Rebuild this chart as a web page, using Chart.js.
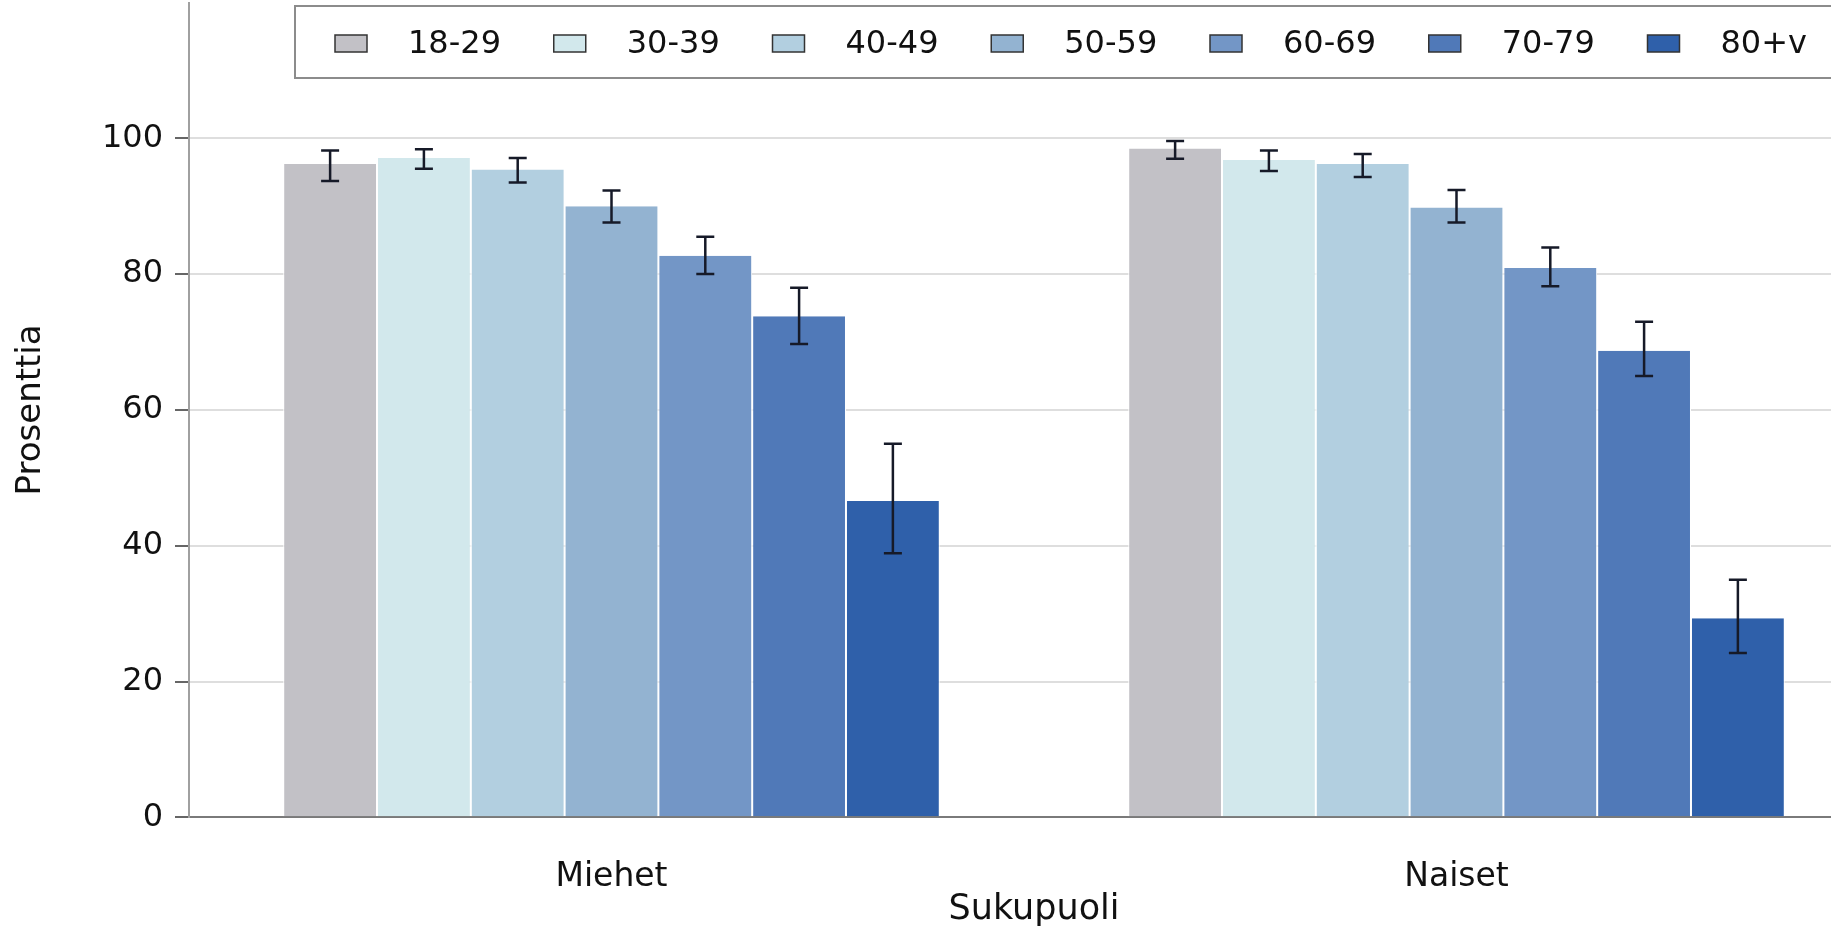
<!DOCTYPE html>
<html>
<head>
<meta charset="utf-8">
<script src="https://cdn.jsdelivr.net/npm/chart.js@4.4.1/dist/chart.umd.min.js"></script>
<style>
html, body { margin: 0; padding: 0; background: #fff; overflow: hidden; }
#wrap { width: 1881px; height: 932px; }
</style>
</head>
<body>
<div id="wrap"><canvas id="kuvio"></canvas></div>
<script>
// Sukupuoli x ikäryhmä, prosentteina + luottamusvälit
var sukupuoli = ['Miehet', 'Naiset'];
var ikaryhmat = ['18-29', '30-39', '40-49', '50-59', '60-69', '70-79', '80+v'];
var miehet = [96.2, 97.1, 95.4, 90.0, 82.7, 73.8, 46.6];
var miehetAla = [93.7, 95.5, 93.5, 87.6, 80.0, 69.7, 38.9];
var miehetYla = [98.2, 98.4, 97.1, 92.3, 85.5, 78.0, 55.0];
var naiset = [98.5, 96.8, 96.2, 89.8, 80.9, 68.7, 29.3];
var naisetAla = [97.0, 95.2, 94.3, 87.6, 78.2, 65.0, 24.2];
var naisetYla = [99.6, 98.2, 97.7, 92.4, 83.9, 73.0, 35.0];
var yTicks = [0, 20, 40, 60, 80, 100];

var varit = ['#c2c1c6', '#d2e8ec', '#b2cfe0', '#93b3d1', '#7396c6', '#5079b8', '#2f60aa'];

Chart.defaults.font.family = '"DejaVu Sans", sans-serif';

var datasets = ikaryhmat.map(function (ika, i) {
	return {
		label: ika,
		data: [miehet[i], naiset[i]],
		ala: [miehetAla[i], naisetAla[i]],
		yla: [miehetYla[i], naisetYla[i]],
		backgroundColor: varit[i],
		borderColor: '#ffffff',
		borderWidth: { left: 1, right: 1, top: 0, bottom: 0 },
		categoryPercentage: 0.777,
		barPercentage: 1.0
	};
});

// virhepalkit
var virhepalkit = {
	id: 'virhepalkit',
	afterDatasetsDraw: function (chart) {
		var ctx = chart.ctx, y = chart.scales.y;
		ctx.save();
		ctx.strokeStyle = '#161a28';
		ctx.lineWidth = 2.5;
		chart.data.datasets.forEach(function (ds, d) {
			chart.getDatasetMeta(d).data.forEach(function (bar, i) {
				var yt = y.getPixelForValue(ds.yla[i]);
				var ya = y.getPixelForValue(ds.ala[i]);
				ctx.beginPath();
				ctx.moveTo(bar.x, yt); ctx.lineTo(bar.x, ya);
				ctx.moveTo(bar.x - 9, yt); ctx.lineTo(bar.x + 9, yt);
				ctx.moveTo(bar.x - 9, ya); ctx.lineTo(bar.x + 9, ya);
				ctx.stroke();
			});
		});
		ctx.restore();
	}
};

// selite kehyksineen kuva-alueen sisällä
var selite = {
	id: 'selite',
	afterDraw: function (chart) {
		var ctx = chart.ctx;
		ctx.save();
		ctx.fillStyle = '#ffffff';
		ctx.fillRect(295, 6, chart.width, 72);
		ctx.strokeStyle = '#8c8c8c';
		ctx.lineWidth = 2;
		ctx.strokeRect(295, 6, chart.width, 72);
		ctx.font = '32px "DejaVu Sans"';
		ctx.textBaseline = 'alphabetic';
		chart.data.datasets.forEach(function (ds, i) {
			var x = 335 + i * 218.75;
			ctx.fillStyle = ds.backgroundColor;
			ctx.fillRect(x, 35, 32, 17);
			ctx.strokeStyle = '#333333';
			ctx.lineWidth = 1.5;
			ctx.strokeRect(x, 35, 32, 17);
			ctx.fillStyle = '#111111';
			ctx.fillText(ds.label, x + 73, 53);
		});
		ctx.restore();
	}
};

new Chart(document.getElementById('kuvio').getContext('2d'), {
	type: 'bar',
	data: { labels: sukupuoli, datasets: datasets },
	plugins: [virhepalkit, selite],
	options: {
		responsive: true,
		maintainAspectRatio: false,
		animation: false,
		layout: { padding: { top: 2.5, right: 2, left: 0, bottom: 0 } },
		plugins: {
			legend: { display: false },
			tooltip: { enabled: false }
		},
		scales: {
			x: {
				afterFit: function (s) { s.height = 114.7; s.paddingLeft = 0; s.paddingRight = 0; },
				grid: { display: false, drawTicks: false },
				border: { color: '#7a7a7a', width: 2 },
				ticks: { padding: 40, color: '#111111', font: { size: 33 } },
				title: { display: true, text: 'Sukupuoli', color: '#111111', font: { size: 35 }, padding: { top: 0, bottom: 1 } }
			},
			y: {
				min: 0,
				max: 120,
				afterBuildTicks: function (s) { s.ticks = yTicks.map(function (v) { return { value: v }; }); },
				afterFit: function (s) { s.width = 189; s.paddingTop = 0; s.paddingBottom = 0; },
				grid: { color: '#dedede', lineWidth: 2, tickLength: 14, tickColor: '#333333', tickWidth: 1.5 },
				border: { color: '#a0a0a0', width: 2 },
				ticks: { padding: 12, color: '#111111', font: { size: 32 } },
				title: { display: true, text: 'Prosenttia', color: '#111111', font: { size: 34 }, padding: { top: 11, bottom: 0 } }
			}
		}
	}
});
</script>
</body>
</html>
